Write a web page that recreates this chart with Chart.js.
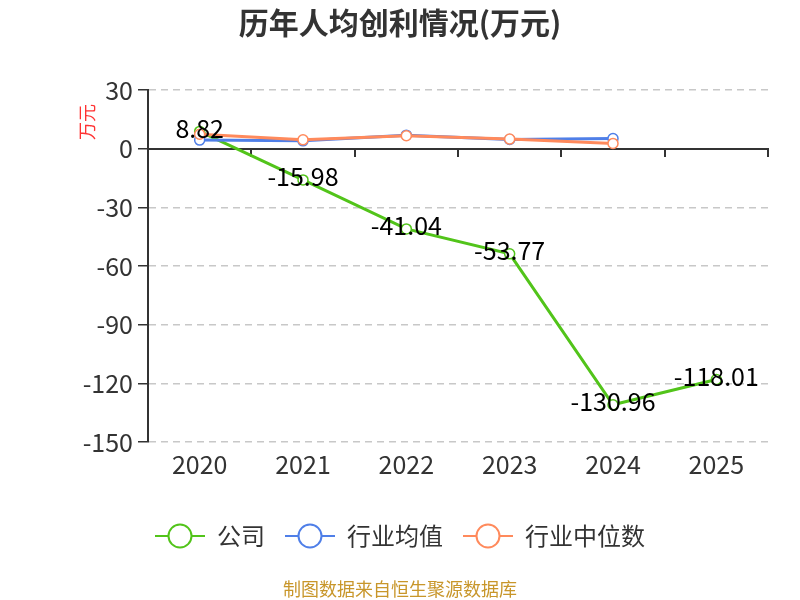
<!DOCTYPE html>
<html><head><meta charset="utf-8">
<script src="https://cdn.jsdelivr.net/npm/chart.js@4"></script>
<style>html,body{margin:0;padding:0;background:#fff}#wrap{width:800px;height:600px;position:relative}</style>
</head><body><div id="wrap"><canvas id="c" width="800" height="600"></canvas></div>
<script>
const categories = ['2020','2021','2022','2023','2024','2025'];
const companyValues = [8.82, -15.98, -41.04, -53.77, -130.96, -118.01];
const industryAvg = [4.4, 4.0, 6.9, 4.7, 5.2, null];
const industryMedian = [7.4, 4.5, 6.6, 4.9, 2.7, null];
const seriesNames = ['公司', '行业均值', '行业中位数'];
const yTicks = [30, 0, -30, -60, -90, -120, -150];

const FONT = '"Noto Sans CJK SC", "Noto Sans", sans-serif';
const COLORS = ['#52c41a', '#4f7fe8', '#ff8a5c'];

function marker(color){
  const cv = document.createElement('canvas');
  cv.width = 50; cv.height = 28;
  const g = cv.getContext('2d');
  g.strokeStyle = color; g.lineWidth = 2;
  g.beginPath(); g.moveTo(0,14); g.lineTo(50,14); g.stroke();
  g.beginPath(); g.arc(25,14,11.5,0,Math.PI*2); g.fillStyle='#fff'; g.fill(); g.stroke();
  return cv;
}
const markers = COLORS.map(marker);

const labelPlugin = {
  id: 'valueLabels',
  afterLayout(chart){
    // centre title and legend on the full page width
    [chart.titleBlock, chart.legend].forEach(b => { if (b) { b.left += 16; b.right += 16; } });
  },
  afterDatasetsDraw(chart){
    const meta = chart.getDatasetMeta(0);
    const ctx = chart.ctx;
    ctx.save();
    ctx.font = '25px ' + FONT;
    ctx.fillStyle = '#000';
    ctx.textAlign = 'center';
    ctx.textBaseline = 'middle';
    meta.data.forEach((pt, i) => {
      const v = companyValues[i];
      if (v == null) return;
      ctx.fillText(v.toFixed(2), pt.x, pt.y - 3);
    });
    ctx.restore();
  },
  afterDraw(chart){
    const ctx = chart.ctx;
    const ca = chart.chartArea;
    ctx.save();
    ctx.translate(ca.left - 61, ca.top + 32);
    ctx.rotate(-Math.PI/2);
    ctx.font = '18px ' + FONT;
    ctx.fillStyle = '#ff3333';
    ctx.textAlign = 'center';
    ctx.textBaseline = 'middle';
    ctx.fillText('万元', 0, 0);
    ctx.restore();
    ctx.save();
    ctx.font = '18px ' + FONT;
    ctx.fillStyle = '#c8962a';
    ctx.textAlign = 'center';
    ctx.textBaseline = 'middle';
    ctx.fillText('制图数据来自恒生聚源数据库', 400, 589);
    ctx.restore();
  }
};

const makeDs = (label, data, i, order) => ({
  label, data,
  borderColor: COLORS[i], backgroundColor: '#fff',
  borderWidth: 3, pointRadius: 5, pointBorderWidth: 1.5,
  pointBackgroundColor: '#fff', pointBorderColor: COLORS[i],
  tension: 0, order, xAxisID: 'x', yAxisID: 'y'
});

new Chart(document.getElementById('c'), {
  type: 'line',
  data: {
    labels: categories,
    datasets: [
      makeDs(seriesNames[0], companyValues, 0, 2),
      makeDs(seriesNames[1], industryAvg, 1, 1),
      makeDs(seriesNames[2], industryMedian, 2, 0)
    ]
  },
  plugins: [labelPlugin],
  options: {
    responsive: false,
    animation: false,
    devicePixelRatio: 1,
    layout: { padding: { left: 0, right: 32, top: 0, bottom: 42 } },
    plugins: {
      title: {
        display: true, text: '历年人均创利情况(万元)',
        color: '#333', font: { family: FONT, size: 30, weight: 'bold' },
        padding: { top: 5, bottom: 49 }
      },
      legend: {
        display: true, position: 'bottom',
        labels: {
          usePointStyle: true, pointStyleWidth: 50, padding: 20,
          color: '#333', font: { family: FONT, size: 24 },
          generateLabels(chart){
            return seriesNames.map((n, i) => ({
              text: n, pointStyle: markers[i], fillStyle: '#fff',
              strokeStyle: COLORS[i], lineWidth: 0, hidden: false,
              datasetIndex: i, fontColor: '#333'
            }));
          }
        }
      },
      tooltip: { enabled: false }
    },
    scales: {
      x: {
        type: 'category', position: 'bottom', offset: true,
        grid: { display: false, drawTicks: false },
        border: { display: false },
        ticks: { color: '#333', font: { family: FONT, size: 25 }, padding: 7 },
        afterFit(s){ s.height = 62; }
      },
      x0: {
        type: 'category', position: { y: 0 }, offset: true,
        grid: { drawOnChartArea: false, drawTicks: true, tickLength: 7, color: '#333', offset: true, lineWidth: 2 },
        border: { display: true, color: '#333', width: 2 },
        ticks: { display: false }
      },
      y: {
        min: -150, max: 30,
        afterBuildTicks(s){ s.ticks = yTicks.map(v => ({ value: v })); },
        grid: { color: '#c8c8c8', lineWidth: 1.5, drawTicks: true, tickLength: 10, tickColor: '#333' },
        border: { display: true, color: '#333', width: 2, dash: [7, 5] },
        ticks: { color: '#333', font: { family: FONT, size: 25 }, padding: 5 },
        afterFit(s){ s.width = 148; }
      }
    }
  }
});
</script></body></html>
